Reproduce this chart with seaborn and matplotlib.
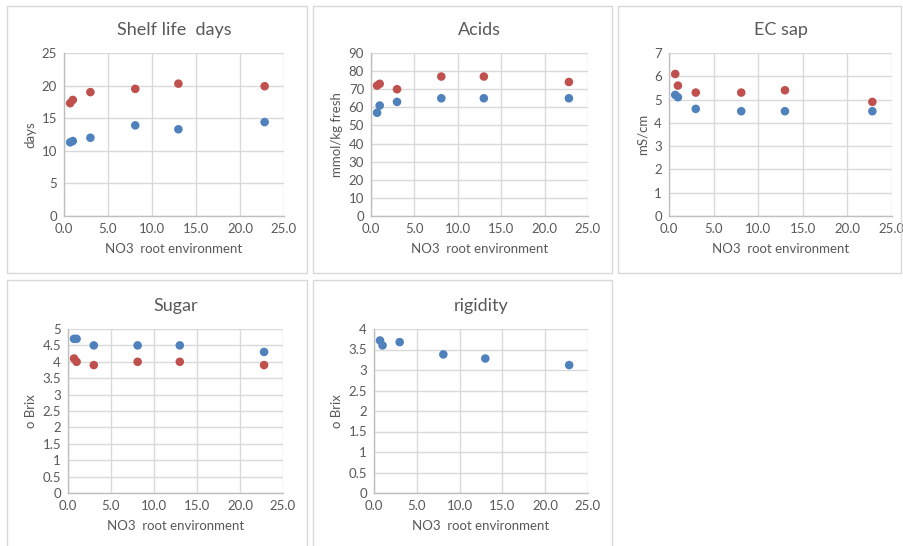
import matplotlib.pyplot as plt
import seaborn as sns
import pandas as pd
from matplotlib.patches import Rectangle

# NO3 in root environment (x) for all panels
no3 = [0.7, 1.0, 3.0, 8.1, 13.0, 22.8]

shelf_blue = [11.3, 11.5, 12.0, 13.9, 13.3, 14.4]
shelf_red = [17.3, 17.8, 19.0, 19.5, 20.3, 19.9]

acids_blue = [57, 61, 63, 65, 65, 65]
acids_red = [72, 73, 70, 77, 77, 74]

ec_blue = [5.2, 5.1, 4.6, 4.5, 4.5, 4.5]
ec_red = [6.1, 5.6, 5.3, 5.3, 5.4, 4.9]

sugar_blue = [4.7, 4.7, 4.5, 4.5, 4.5, 4.3]
sugar_red = [4.1, 4.0, 3.9, 4.0, 4.0, 3.9]

rigid_blue = [3.72, 3.6, 3.68, 3.38, 3.28, 3.12]

sns.set_style('white')
plt.rcParams['font.family'] = ['Lato', 'DejaVu Sans']

W, H = 904, 546
fig = plt.figure(figsize=(W / 100, H / 100), dpi=100)
fig.patch.set_facecolor('white')

blue = '#4F81BD'
red = '#C0504D'
txt = '#595959'
grid = '#D9D9D9'


def px_axes(x0, x1, ytop, ybot):
    return fig.add_axes([x0 / W, 1 - ybot / H, (x1 - x0) / W, (ybot - ytop) / H])


def border(x0, x1, ytop, ybot):
    fig.patches.append(Rectangle((x0 / W, 1 - ybot / H), (x1 - x0) / W, (ybot - ytop) / H,
                                 transform=fig.transFigure, fill=False,
                                 edgecolor='#D9D9D9', linewidth=1.0, zorder=0))


panels = [
    # title, ylabel, series (values, colour), ymax, ystep, axes box, panel box
    ('Shelf life  days', 'days', [(shelf_blue, blue), (shelf_red, red)], 25, 5,
     (64, 284, 53, 216), (7, 307, 6, 273)),
    ('Acids', 'mmol/kg fresh', [(acids_blue, blue), (acids_red, red)], 90, 10,
     (371, 588, 53, 216), (313, 612, 6, 273)),
    ('EC sap', 'mS/cm', [(ec_blue, blue), (ec_red, red)], 7, 1,
     (669, 892, 53, 216), (618, 901, 6, 273)),
    ('Sugar', 'o Brix', [(sugar_blue, blue), (sugar_red, red)], 5, 0.5,
     (68, 283, 329, 493), (7, 307, 280, 560)),
    ('rigidity', 'o Brix', [(rigid_blue, blue)], 4, 0.5,
     (374, 588, 329, 493), (313, 612, 280, 560)),
]

for title, ylab, series, ymax, ystep, box, pbox in panels:
    border(*pbox)
    ax = px_axes(*box)
    for vals, c in series:
        df = pd.DataFrame({'no3': no3, 'v': vals})
        sns.scatterplot(data=df, x='no3', y='v', color=c, s=38, edgecolor='none', ax=ax, zorder=3)
    ax.set_xlim(0, 25)
    ax.set_ylim(0, ymax)
    ax.set_xticks([0, 5, 10, 15, 20, 25])
    ax.set_xticklabels([f'{t:.1f}' for t in [0, 5, 10, 15, 20, 25]])
    yt = [round(i * ystep, 2) for i in range(int(round(ymax / ystep)) + 1)]
    ax.set_yticks(yt)
    ax.set_yticklabels([f'{t:g}' for t in yt])
    ax.grid(True, color=grid, linewidth=1.0, zorder=0)
    ax.set_axisbelow(True)
    for s in ['top', 'right']:
        ax.spines[s].set_visible(False)
    for s in ['left', 'bottom']:
        ax.spines[s].set_color('#BFBFBF')
        ax.spines[s].set_linewidth(1.0)
    ax.tick_params(axis='both', length=0, labelsize=9.5, colors=txt, pad=5)
    ax.set_title(title, fontsize=13, color=txt, pad=13)
    ax.set_xlabel('NO3  root environment', fontsize=9.5, color=txt, labelpad=6)
    ax.set_ylabel(ylab, fontsize=9.5, color=txt, labelpad=4)

plt.savefig('out.png', dpi=100)
